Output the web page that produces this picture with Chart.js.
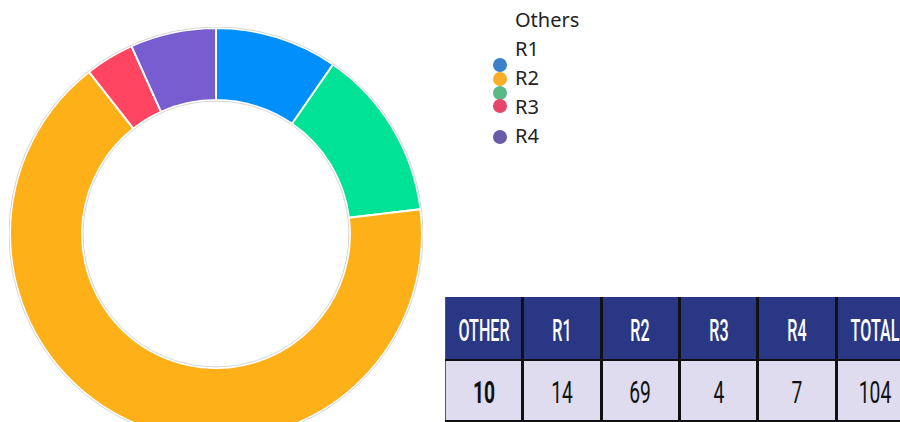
<!DOCTYPE html>
<html>
<head>
<meta charset="utf-8">
<script src="https://cdn.jsdelivr.net/npm/chart.js@4.4.0/dist/chart.umd.min.js"></script>
<style>
  html, body { margin: 0; padding: 0; width: 900px; height: 422px; overflow: hidden; background: #fff; }
  #chart-wrap { position: absolute; left: 9px; top: 27px; width: 414px; height: 414px; }
  #legend { position: absolute; left: 486px; top: 5px; font-family: "Noto Sans", sans-serif; font-size: 20px; color: #222; }
  #legend .item { position: absolute; left: 29px; white-space: nowrap; line-height: 29px; }
  #legend .dot { position: absolute; left: 7px; width: 14px; height: 14px; border-radius: 50%; }
  #summary { position: absolute; left: 445px; top: 297px; width: 468px; border-collapse: collapse; table-layout: fixed; }
  #summary td, #summary th { position: relative; width: 75px; padding: 0; font-family: Roboto, sans-serif; border-left: 3px solid #111; overflow: visible; }
  #summary th { height: 62px; background: #293784; color: #fff; font-weight: 500; font-size: 31px; border-bottom: 2px solid #111; }
  #summary td { height: 59px; background: #dedcee; color: #111; font-size: 31px; border-bottom: 2px solid #111; }
  #summary tr > :first-child { border-left: 1px solid #555; }
  #summary span { position: absolute; left: 50%; top: 50%; white-space: nowrap; line-height: 1; }
  #summary th span { transform: translate(-50%, -42%) scaleX(0.52); }
  #summary td span { transform: translate(-50%, -45%) scaleX(0.62); }
</style>
</head>
<body>
<div id="chart-wrap"><canvas id="donut"></canvas></div>
<div id="legend"></div>
<table id="summary"><tr id="head"></tr><tr id="body"></tr></table>
<script>
const categories = ['Others', 'R1', 'R2', 'R3', 'R4'];
const values = [10, 14, 69, 4, 7];
const sliceColors = ['#008ffb', '#00e396', '#feb019', '#ff4560', '#775dd0'];

// legend dots as they appear in the picture (order and vertical offsets)
const legendDotColors = ['#3b80c8', '#f9ae2a', '#58b887', '#e5466a', '#6a5ba8'];
const legendDotTops = [53, 67, 81, 94, 125];

const tableHeads = ['OTHER', 'R1', 'R2', 'R3', 'R4', 'TOTAL'];

// legend
const legend = document.getElementById('legend');
categories.forEach((c, i) => {
    const el = document.createElement('div');
    el.className = 'item';
    el.style.top = (i * 29) + 'px';
    el.textContent = c;
    legend.appendChild(el);
});
legendDotColors.forEach((col, i) => {
    const d = document.createElement('div');
    d.className = 'dot';
    d.style.background = col;
    d.style.top = legendDotTops[i] + 'px';
    legend.appendChild(d);
});

// table
const total = values.reduce((a, b) => a + b, 0);
const head = document.getElementById('head');
const body = document.getElementById('body');
tableHeads.forEach(h => {
    const th = document.createElement('th');
    th.innerHTML = `<span>${h}</span>`;
    head.appendChild(th);
});
values.concat([total]).forEach((v, i) => {
    const td = document.createElement('td');
    td.innerHTML = `<span>${v}</span>`;
    td.style.fontWeight = i === 0 ? '700' : '400';
    body.appendChild(td);
});

// faint grey rim round the ring
const ringOutline = {
    id: 'ringOutline',
    afterDatasetsDraw(chart) {
        const arc = chart.getDatasetMeta(0).data[0];
        if (!arc) return;
        const ctx = chart.ctx;
        ctx.save();
        ctx.strokeStyle = 'rgba(0,0,0,0.16)';
        ctx.lineWidth = 1;
        ctx.beginPath();
        ctx.arc(arc.x, arc.y, arc.outerRadius + 1, 0, Math.PI * 2);
        ctx.stroke();
        ctx.beginPath();
        ctx.arc(arc.x, arc.y, arc.innerRadius - 1, 0, Math.PI * 2);
        ctx.stroke();
        ctx.restore();
    }
};

new Chart(document.getElementById('donut'), {
    type: 'doughnut',
    data: {
        labels: categories,
        datasets: [{
            data: values,
            backgroundColor: sliceColors,
            borderColor: '#fff',
            borderWidth: 2
        }]
    },
    options: {
        responsive: true,
        maintainAspectRatio: false,
        animation: false,
        cutout: '65%',
        layout: { padding: 0 },
        plugins: {
            legend: { display: false },
            tooltip: { enabled: false }
        }
    },
    plugins: [ringOutline]
});
</script>
</body>
</html>
